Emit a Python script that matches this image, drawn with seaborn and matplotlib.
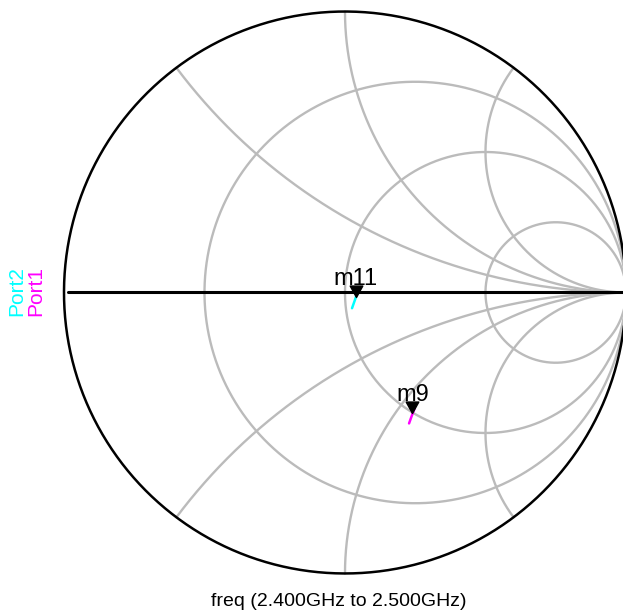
import numpy as np
import seaborn as sns
import matplotlib.pyplot as plt
from matplotlib.path import Path

# reflection coefficient traces (real, imag)
port1_re = [0.248, 0.243, 0.238, 0.233, 0.228]
port1_im = [-0.412, -0.425, -0.438, -0.452, -0.466]
port2_re = [0.047, 0.042, 0.037, 0.031, 0.025]
port2_im = [0.010, -0.006, -0.022, -0.039, -0.056]

marker_names = ["m9", "m11"]
marker_re = [0.240, 0.038]
marker_im = [-0.429, -0.017]

r_circles = [1 / 3, 1, 3]
x_arcs = [0.5, 1, 2]

sns.set_theme(style="white")
plt.rcParams["font.family"] = ["Liberation Sans", "DejaVu Sans"]

fig = plt.figure(figsize=(6.23, 6.15), dpi=100)
L = 1.02
ax = fig.add_axes([0.0937, 0.0584, 0.9201, 0.9320])
ax.set_xlim(-L, L)
ax.set_ylim(-L, L)
ax.axis("off")

grid = "#bbbbbb"
t = np.linspace(0, 2 * np.pi, 600)
for r in r_circles:
    c = r / (1 + r)
    rad = 1 / (1 + r)
    ax.plot(c + rad * np.cos(t), rad * np.sin(t), color=grid, lw=1.7, zorder=1)

s = np.linspace(0, 0.99995, 3000)
rr = s / (1 - s)
for x in x_arcs:
    for sign in (1, -1):
        z = rr + 1j * sign * x
        g = (z - 1) / (z + 1)
        ax.plot(g.real, g.imag, color=grid, lw=1.7, zorder=1)

ax.plot(np.cos(t), np.sin(t), color="black", lw=1.8, zorder=2, clip_on=False)
ax.plot([-0.985, 1.0], [0, 0], color="black", lw=2.2, zorder=2)

sns.lineplot(x=port1_re, y=port1_im, sort=False, color="#ff00ff", lw=1.8, ax=ax, zorder=3)
sns.lineplot(x=port2_re, y=port2_im, sort=False, color="#00ffff", lw=1.8, ax=ax, zorder=3)

tri = Path([(-0.55, 1.0), (0.55, 1.0), (0.0, 0.0), (-0.55, 1.0)],
           [Path.MOVETO, Path.LINETO, Path.LINETO, Path.CLOSEPOLY])
for name, mx, my in zip(marker_names, marker_re, marker_im):
    ax.plot([mx], [my], marker=tri, markersize=16.5, color="black", ls="none", zorder=4)
    ax.annotate(name, (mx, my), xytext=(0, 8.5), textcoords="offset points",
                ha="center", va="baseline", fontsize=17, color="black", zorder=5)

fig.text(338.5 / 623, (615 - 606) / 615, "freq (2.400GHz to 2.500GHz)",
         ha="center", va="baseline", fontsize=14, color="black")
fig.text(16.5 / 623, 1 - 291 / 615, "Port2", rotation=90, ha="center", va="center",
         fontsize=15, color="#00ffff")
fig.text(36 / 623, 1 - 291 / 615, "Port1", rotation=90, ha="center", va="center",
         fontsize=15, color="#ff00ff")

fig.savefig("out.png", dpi=100)
